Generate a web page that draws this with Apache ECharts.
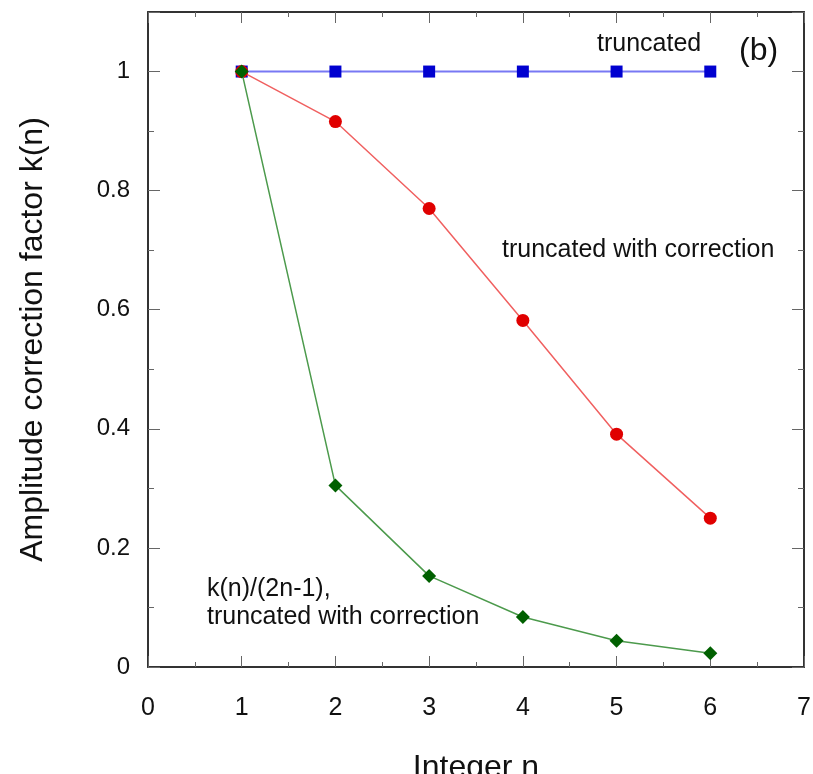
<!DOCTYPE html>
<html><head><meta charset="utf-8">
<script src="https://cdn.jsdelivr.net/npm/echarts@6/dist/echarts.min.js"></script>
<style>html,body{margin:0;padding:0;background:#fff}#c{width:813px;height:774px}</style>
</head><body><div id="c"></div>
<script>
const nValues = [1, 2, 3, 4, 5, 6];
const truncated = [1, 1, 1, 1, 1, 1];
const truncatedCorrection = [1, 0.916, 0.770, 0.582, 0.391, 0.250];
const scaledCorrection = [1, 0.305, 0.153, 0.084, 0.044, 0.023];
const xTicks = [0, 1, 2, 3, 4, 5, 6, 7];
const yTicks = [0, 0.2, 0.4, 0.6, 0.8, 1];

const pair = (ys) => nValues.map((n, i) => [n, ys[i]]);
const FONT = '"Liberation Sans", Arial, Helvetica, sans-serif';
const axisColor = '#333';

const chart = echarts.init(document.getElementById('c'), null, {renderer: 'canvas'});
const baseX = {
  type: 'value', min: 0, max: 7, interval: 1,
  axisLine: {show: true, onZero: false, lineStyle: {color: axisColor, width: 2}},
  axisTick: {show: true, inside: true, length: 11, lineStyle: {color: '#666', width: 1}},
  minorTick: {show: true, splitNumber: 2, length: 5, lineStyle: {color: '#666', width: 1}},
  splitLine: {show: false}
};
const baseY = {
  type: 'value', min: 0, max: 1.1, interval: 0.2,
  axisLine: {show: true, onZero: false, lineStyle: {color: axisColor, width: 2}},
  axisTick: {show: true, inside: true, length: 12, lineStyle: {color: '#666', width: 1}},
  minorTick: {show: true, splitNumber: 2, length: 6, lineStyle: {color: '#666', width: 1}},
  splitLine: {show: false}
};
chart.setOption({
  backgroundColor: '#fff',
  animation: false,
  grid: {left: 148, top: 12, width: 656, height: 655, containLabel: false, outerBoundsMode: 'none'},
  xAxis: [
    Object.assign({}, baseX, {
      position: 'bottom',
      name: 'Integer n', nameLocation: 'middle', nameGap: 85,
      nameTextStyle: {fontFamily: FONT, fontSize: 32, color: '#111'},
      axisLabel: {show: true, margin: 29, fontFamily: FONT, fontSize: 25, color: '#111',
        formatter: v => xTicks.includes(v) ? String(v) : ''}
    }),
    Object.assign({}, baseX, {position: 'top', axisLabel: {show: false}})
  ],
  yAxis: [
    Object.assign({}, baseY, {
      position: 'left',
      name: 'Amplitude correction factor k(n)', nameLocation: 'middle', nameGap: 99,
      nameTextStyle: {fontFamily: FONT, fontSize: 32, color: '#111'},
      axisLabel: {show: true, margin: 18, fontFamily: FONT, fontSize: 24, color: '#111',
        formatter: v => {
          const t = yTicks.find(y => Math.abs(y - v) < 1e-9);
          return t === undefined ? '' : String(t);
        }}
    }),
    Object.assign({}, baseY, {position: 'right', axisLabel: {show: false}})
  ],
  series: [
    {
      name: 'truncated', type: 'line', data: pair(truncated),
      symbol: 'rect', symbolSize: 12,
      itemStyle: {color: '#0000d0'},
      lineStyle: {color: '#7878f4', width: 2}, z: 2
    },
    {
      name: 'truncated with correction', type: 'line', data: pair(truncatedCorrection),
      symbol: 'circle', symbolSize: 13,
      itemStyle: {color: '#e00000'},
      lineStyle: {color: '#f06060', width: 1.5}, z: 3
    },
    {
      name: 'k(n)/(2n-1), truncated with correction', type: 'line', data: pair(scaledCorrection),
      symbol: 'diamond', symbolSize: 14,
      itemStyle: {color: '#006000'},
      lineStyle: {color: '#4c9a4c', width: 1.5}, z: 4
    }
  ],
  graphic: [
    {type: 'text', x: 597, y: 44, style: {text: 'truncated', font: '25px ' + FONT, fill: '#111', verticalAlign: 'middle'}},
    {type: 'text', x: 739, y: 51, style: {text: '(b)', font: '32px ' + FONT, fill: '#111', verticalAlign: 'middle'}},
    {type: 'text', x: 502, y: 250, style: {text: 'truncated with correction', font: '25px ' + FONT, fill: '#111', verticalAlign: 'middle'}},
    {type: 'text', x: 207, y: 589, style: {text: 'k(n)/(2n-1),', font: '25px ' + FONT, fill: '#111', verticalAlign: 'middle'}},
    {type: 'text', x: 207, y: 617, style: {text: 'truncated with correction', font: '25px ' + FONT, fill: '#111', verticalAlign: 'middle'}}
  ]
});
</script>
</body></html>
